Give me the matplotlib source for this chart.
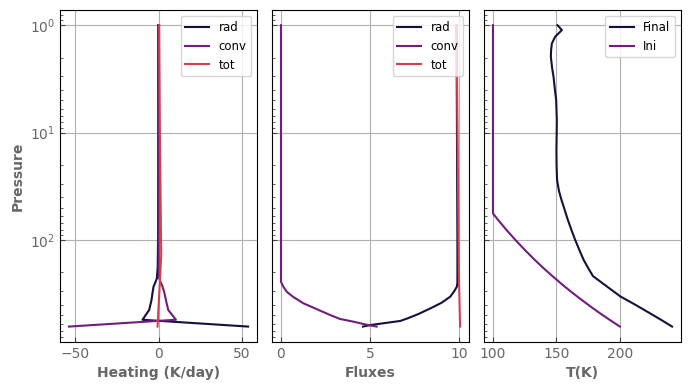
#radiative-convective column: heating rates, fluxes and temperature profile
import matplotlib.pyplot as plt
import numpy as np

#colours of the three series
c_dark = "#170f3c"
c_purp = "#6f1e7c"
c_red = "#d4404e"

#heating rates (K/day)
p_hrad = [1, 20, 100, 180, 228, 250, 272, 310, 362, 448, 553, 640]
h_rad = [-0.2, -0.2, -0.3, -0.5, -1.0, -2.0, -3.0, -3.6, -4.2, -5.6, -9.6, 53.6]
p_hconv = [1, 20, 100, 180, 228, 250, 272, 310, 362, 448, 553, 640]
h_conv = [0, 0, 0, 0.1, 0.4, 1.4, 2.4, 3.5, 4.4, 5.8, 10.4, -53.6]
p_htot = [1, 10, 140, 640]
h_tot = [0.4, 0.8, 1.6, -0.6]

#fluxes
p_frad = [1, 100, 250, 272, 300, 337, 385, 432, 490, 537, 567, 620, 640]
f_rad = [9.85, 9.9, 9.9, 9.87, 9.72, 9.5, 9.0, 8.4, 7.7, 7.1, 6.7, 5.0, 4.6]
p_fconv = [1, 100, 245, 253, 275, 303, 340, 388, 440, 499, 543, 576, 620, 640]
f_conv = [0, 0, 0, 0.04, 0.15, 0.32, 0.7, 1.25, 2.0, 2.75, 3.3, 4.06, 4.9, 5.37]
p_ftot = [1, 25, 200, 640]
f_tot = [9.85, 9.93, 9.98, 10.05]

#temperature (K)
p_final = [1, 1.11, 1.28, 1.48, 1.7, 1.97, 2.5, 3.02, 4.0, 4.97, 6.0, 7.66, 10, 14.5, 20, 27.7, 35, 42.4, 52,
           65, 80, 100, 125, 153, 185, 217, 270, 335, 400, 464, 550, 640]
t_final = [150.8, 154.3, 149, 146.4, 145.8, 145.6, 146.6, 147.7, 148.8, 149.8, 150.0, 150.3, 150.2, 150.0, 150.1,
           150.5, 152, 154.0, 156.4, 159.0, 161.7, 164.8, 168.2, 171.4, 175.3, 178.8, 189.6, 200.3, 212, 221.4,
           232, 241.1]
p_ini = [1, 10, 56.6, 65, 80, 100, 120, 150, 180, 210, 260, 300, 360, 420, 480, 560, 640]
t_ini = [100, 100, 100, 104, 110.4, 117.7, 124, 132.1, 139.2, 145.5, 154.6, 161, 169.7, 177.3, 184.2, 192.5, 200]

lab_col = "#666666"
plt.rcParams["font.size"] = 10

fig, axs = plt.subplots(1, 3, figsize=(6.9, 3.9), dpi=100, sharey=True)
fig.subplots_adjust(left=0.087, right=0.987, bottom=0.124, top=0.974, wspace=0.076)

axs[0].plot(h_rad, p_hrad, label="rad", color=c_dark, lw=1.5)
axs[0].plot(h_conv, p_hconv, label="conv", color=c_purp, lw=1.5)
axs[0].plot(h_tot, p_htot, label="tot", color=c_red, lw=1.5)
axs[0].set_xlabel("Heating (K/day)")
axs[0].set_ylabel("Pressure")

axs[1].plot(f_rad, p_frad, label="rad", color=c_dark, lw=1.5)
axs[1].plot(f_conv, p_fconv, label="conv", color=c_purp, lw=1.5)
axs[1].plot(f_tot, p_ftot, label="tot", color=c_red, lw=1.5)
axs[1].set_xlabel("Fluxes")
axs[1].set_xticks([0, 5, 10])

axs[2].plot(t_final, p_final, label="Final", color=c_dark, lw=1.5)
axs[2].plot(t_ini, p_ini, label="Ini", color=c_purp, lw=1.5)
axs[2].set_xlabel("T(K)")
axs[2].set_xticks([100, 150, 200])

axs[0].set_yscale("log")
axs[0].invert_yaxis()

for ax in axs:
    ax.grid(True, color="#b0b0b0", lw=0.8)
    ax.set_axisbelow(True)
    ax.tick_params(which="both", direction="in", colors=lab_col, labelcolor=lab_col)
    ax.tick_params(which="both", color="#444444")
    ax.xaxis.label.set_color(lab_col)
    ax.xaxis.label.set_fontweight("bold")
    ax.legend(loc="upper right", fontsize=8.5)
    for s in ax.spines.values():
        s.set_color("black")

axs[0].yaxis.label.set_color(lab_col)
axs[0].yaxis.label.set_fontweight("bold")

fig.savefig("out.png")
